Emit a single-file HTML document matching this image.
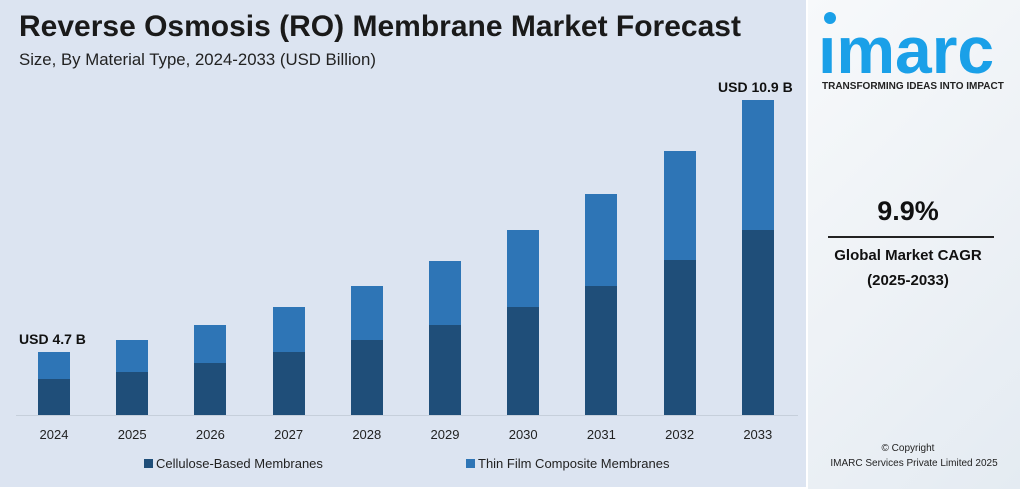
<!DOCTYPE html>
<html><head><style>
body{margin:0;width:1020px;height:489px;background:#fff;position:relative;font-family:"Liberation Sans",Arial,sans-serif;overflow:hidden}
#main{position:absolute;left:0;top:0;width:806px;height:487px;background:#dce4f1}
#side{position:absolute;left:808px;top:0;width:212px;height:489px;background:linear-gradient(135deg,#f7f9fb 0%,#eef2f6 50%,#e4ebf2 100%)}
.t{position:absolute;white-space:nowrap}
.bar{position:absolute;width:32px}
.d{background:#1f4e79}.l{background:#2e75b6}
.yr{position:absolute;top:427px;font-size:13px;color:#222;width:60px;text-align:center}
</style></head><body>
<div id="main">
<div class="t" style="left:19px;top:10px;font-size:30px;font-weight:bold;color:#1a1a1a">Reverse Osmosis (RO) Membrane Market Forecast</div>
<div class="t" style="left:19px;top:50px;font-size:16.8px;color:#222">Size, By Material Type, 2024-2033 (USD Billion)</div>
<div style="position:absolute;left:16px;top:415px;width:782px;height:1px;background:#c6cfdb"></div>
<div class="t" style="left:19px;top:331px;font-size:14px;font-weight:bold;color:#111">USD 4.7 B</div>
<div class="t" style="left:718px;top:79px;font-size:14px;font-weight:bold;color:#111">USD 10.9 B</div>
<div class="t" style="left:144px;top:456px;font-size:13px;color:#222"><span style="display:inline-block;width:9px;height:9px;background:#1f4e79;margin-right:3px"></span>Cellulose-Based Membranes</div>
<div class="t" style="left:466px;top:456px;font-size:13px;color:#222"><span style="display:inline-block;width:9px;height:9px;background:#2e75b6;margin-right:3px"></span>Thin Film Composite Membranes</div>
</div>
<div id="side">
<div style="position:absolute;left:16px;top:12px;width:12px;height:12px;border-radius:50%;background:#1aa0e8"></div>
<div class="t" style="left:10px;top:12px;font-size:66px;font-weight:bold;color:#1aa0e8;letter-spacing:0px">ımarc</div>
<div class="t" style="left:14px;top:81px;font-size:10px;font-weight:bold;color:#222">TRANSFORMING IDEAS INTO IMPACT</div>
<div class="t" style="left:0;width:200px;text-align:center;top:196px;font-size:27px;font-weight:bold;color:#111">9.9%</div>
<div style="position:absolute;left:20px;top:236px;width:166px;height:2px;background:#222"></div>
<div class="t" style="left:0;width:200px;text-align:center;top:247px;font-size:15px;font-weight:bold;color:#111">Global Market CAGR</div>
<div class="t" style="left:0;width:200px;text-align:center;top:272px;font-size:15px;font-weight:bold;color:#111">(2025-2033)</div>
<div class="t" style="left:0;width:200px;text-align:center;top:443px;font-size:10px;color:#222">© Copyright</div>
<div class="t" style="left:0;width:212px;text-align:center;top:458px;font-size:10px;color:#222">IMARC Services Private Limited 2025</div>
</div>
<script>
var d=[[352,379],[340,372],[325,363],[307,352],[286,340],[261,325],[230,307],[194,286],[151,260],[100,230]];
var h='';
for(var i=0;i<10;i++){var x=38+i*78.2;
h+='<div class="bar l" style="left:'+x+'px;top:'+d[i][0]+'px;height:'+(d[i][1]-d[i][0])+'px"></div>';
h+='<div class="bar d" style="left:'+x+'px;top:'+d[i][1]+'px;height:'+(415-d[i][1])+'px"></div>';
h+='<div class="yr" style="left:'+(x-14)+'px">'+(2024+i)+'</div>';}
document.getElementById('main').insertAdjacentHTML('beforeend',h);
</script>
</body></html>
